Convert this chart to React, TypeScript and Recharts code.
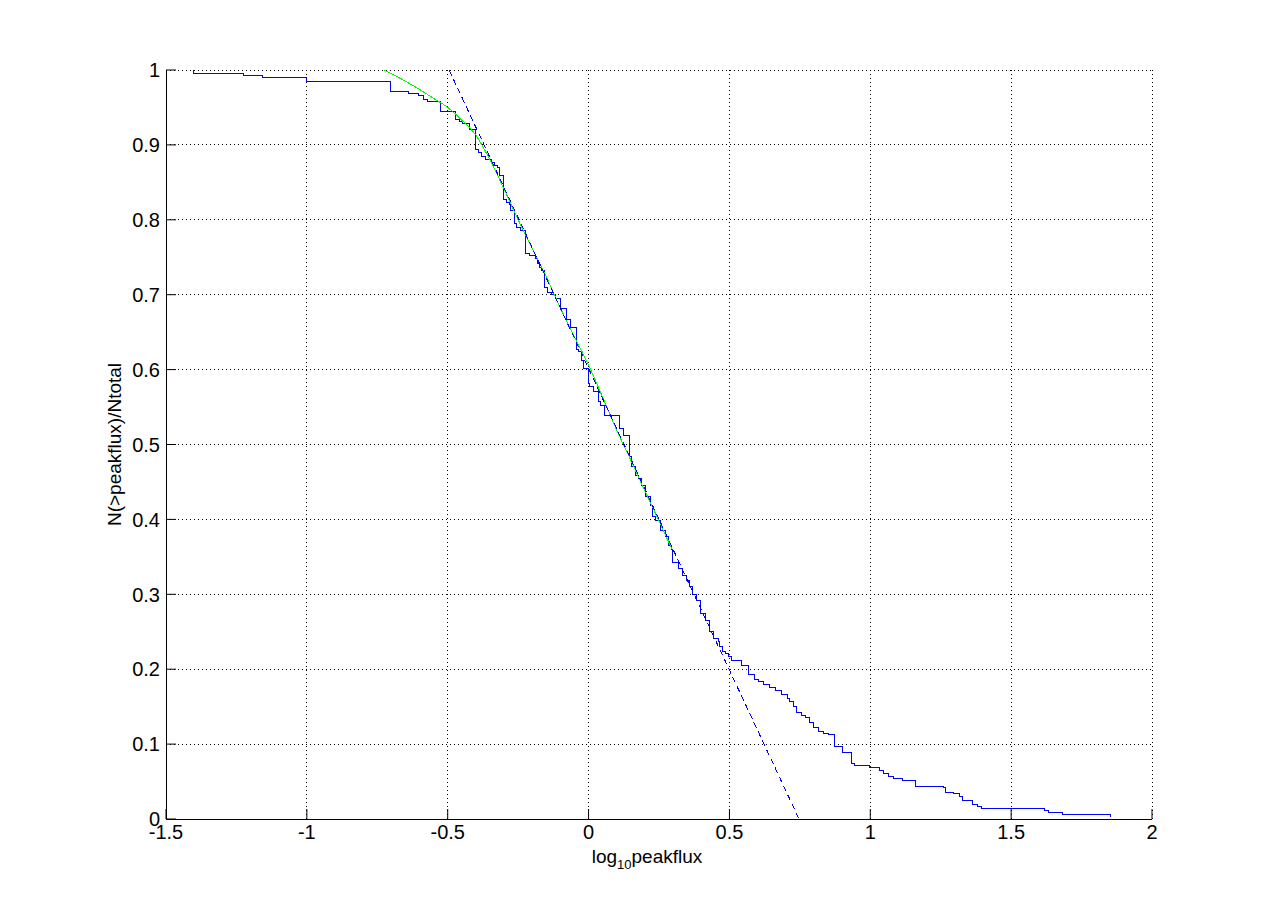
import React from 'react';
import { LineChart, Line, XAxis, YAxis, CartesianGrid } from 'recharts';

const xTicks = [-1.5, -1, -0.5, 0, 0.5, 1, 1.5, 2];
const yTicks = [0, 0.1, 0.2, 0.3, 0.4, 0.5, 0.6, 0.7, 0.8, 0.9, 1];

const stepX = [-1.402, -1.402, -1.2245, -1.157, -1.0, -0.704, -0.639, -0.604, -0.586, -0.572, -0.526, -0.4725, -0.458, -0.446, -0.423, -0.4016, -0.391, -0.379, -0.3647, -0.346, -0.335, -0.3235, -0.3175, -0.302, -0.2927, -0.281, -0.276, -0.263, -0.2547, -0.2405, -0.2253, -0.21, -0.19, -0.1816, -0.1756, -0.166, -0.157, -0.1447, -0.1305, -0.1164, -0.101, -0.0798, -0.063, -0.0443, -0.036, -0.024, -0.0184, 0.0, 0.003, 0.017, 0.0348, 0.0408, 0.056, 0.1093, 0.1234, 0.1437, 0.1532, 0.165, 0.1767, 0.1887, 0.2004, 0.2182, 0.2277, 0.236, 0.2536, 0.2714, 0.282, 0.2951, 0.2987, 0.3186, 0.334, 0.3459, 0.3576, 0.3696, 0.3838, 0.398, 0.4168, 0.4285, 0.4427, 0.4604, 0.464, 0.476, 0.4878, 0.496, 0.508, 0.5435, 0.5669, 0.5906, 0.6023, 0.62, 0.6414, 0.665, 0.6854, 0.7052, 0.7148, 0.729, 0.7386, 0.7563, 0.7716, 0.7857, 0.8, 0.8152, 0.833, 0.8507, 0.8745, 0.9017, 0.9337, 0.9454, 0.9986, 1.034, 1.0483, 1.0635, 1.0837, 1.1146, 1.1618, 1.2586, 1.267, 1.2966, 1.3178, 1.3274, 1.3615, 1.3792, 1.3934, 1.617, 1.6335, 1.6807, 1.8524];
const stepY = [1.0, 0.995, 0.992, 0.9896, 0.9843, 0.9709, 0.9683, 0.9656, 0.9603, 0.9576, 0.9442, 0.9336, 0.9309, 0.9282, 0.9206, 0.8935, 0.8903, 0.885, 0.8806, 0.877, 0.873, 0.8695, 0.859, 0.8268, 0.8236, 0.8205, 0.8125, 0.7948, 0.7903, 0.7859, 0.7556, 0.7525, 0.748, 0.7422, 0.7369, 0.7325, 0.7102, 0.7035, 0.7005, 0.6947, 0.6814, 0.667, 0.6558, 0.6267, 0.6244, 0.6115, 0.6013, 0.5813, 0.5768, 0.5701, 0.5568, 0.5524, 0.539, 0.5213, 0.5123, 0.4834, 0.47, 0.459, 0.4546, 0.4456, 0.43, 0.419, 0.4033, 0.399, 0.3856, 0.3767, 0.3656, 0.3602, 0.342, 0.3345, 0.3255, 0.3189, 0.31, 0.2998, 0.2922, 0.2744, 0.2655, 0.2499, 0.2411, 0.2366, 0.2299, 0.2232, 0.2211, 0.2166, 0.2121, 0.2055, 0.1935, 0.1864, 0.1832, 0.1801, 0.1757, 0.1721, 0.1664, 0.161, 0.1565, 0.1508, 0.1418, 0.1388, 0.1357, 0.1285, 0.1218, 0.1174, 0.1143, 0.1134, 0.0965, 0.0885, 0.0743, 0.0711, 0.0684, 0.0644, 0.061, 0.0574, 0.0543, 0.0516, 0.044, 0.0418, 0.036, 0.0334, 0.0298, 0.0253, 0.02, 0.0173, 0.0143, 0.012, 0.0093, 0.0063, 0.0031];

const fitX = [-0.725, -0.65, -0.6, -0.55, -0.5, -0.45, -0.4, -0.35, -0.3, -0.25, -0.2, -0.15, -0.1, -0.05, 0, 0.05, 0.1, 0.15, 0.2, 0.25, 0.295];
const fitY = [1.0, 0.985, 0.974, 0.962, 0.95, 0.933, 0.913, 0.88, 0.841, 0.8, 0.762, 0.724, 0.682, 0.644, 0.606, 0.563, 0.519, 0.479, 0.438, 0.398, 0.361];

const powerX = [-0.495, 0.747];
const powerY = [1.0, 0.0];

const stepData = stepX.map((x, i) => ({ x, y: stepY[i] }));
const fitData = fitX.map((x, i) => ({ x, y: fitY[i] }));
const powerData = powerX.map((x, i) => ({ x, y: powerY[i] }));

const FONT = '"Liberation Sans", Arial, Helvetica, sans-serif';
const FS = 19;
const TFS = 20;

const BottomTick = (props: any) => {
  const { x, y, payload } = props;
  return (
    <g>
      <line x1={x} y1={y} x2={x} y2={y - 10} stroke="#000" strokeWidth={1} />
      <text x={x} y={y + 20} textAnchor="middle" fontSize={TFS} fontFamily={FONT} fill="#000">
        {String(payload.value)}
      </text>
    </g>
  );
};

const LeftTick = (props: any) => {
  const { x, y, payload } = props;
  return (
    <g>
      <line x1={x} y1={y} x2={x + 10} y2={y} stroke="#000" strokeWidth={1} />
      <text x={x - 6} y={y} dy="0.36em" textAnchor="end" fontSize={TFS} fontFamily={FONT} fill="#000">
        {String(payload.value)}
      </text>
    </g>
  );
};

const XLabel = (props: any) => {
  const vb = props.viewBox || {};
  const cx = vb.x + vb.width / 2 - 12;
  const by = vb.y + 44;
  return (
    <text x={cx} y={by} textAnchor="middle" fontSize={FS} fontFamily={FONT} fill="#000">
      log
      <tspan fontSize={13} dy={6}>10</tspan>
      <tspan dy={-6}>peakflux</tspan>
    </text>
  );
};

const YLabel = (props: any) => {
  const vb = props.viewBox || {};
  const bx = vb.x + 15;
  const cy = vb.y + vb.height / 2;
  return (
    <text
      x={bx}
      y={cy}
      transform={`rotate(-90, ${bx}, ${cy})`}
      textAnchor="middle"
      fontSize={FS}
      fontFamily={FONT}
      fill="#000"
    >
      N(&gt;peakflux)/Ntotal
    </text>
  );
};

export default function App() {
  return (
    <div style={{ width: 1265, height: 912, background: '#fff' }}>
      <style>{'.recharts-line-curve, .recharts-cartesian-grid line, .recharts-cartesian-axis-line, .recharts-cartesian-axis-tick-line { shape-rendering: crispEdges; }'}</style>
      <LineChart width={1265} height={912} margin={{ top: 62, right: 121, bottom: 61, left: 98 }}>
        <CartesianGrid
          stroke="#000"
          strokeDasharray="1 3"
          horizontalValues={yTicks}
          verticalValues={xTicks}
          fill="none"
        />
        <XAxis
          type="number"
          dataKey="x"
          domain={[-1.5, 2]}
          ticks={xTicks}
          interval={0}
          allowDataOverflow
          height={40}
          tickSize={0}
          tickMargin={0}
          tickLine={false}
          axisLine={{ stroke: '#000' }}
          tick={<BottomTick />}
          label={XLabel}
        />
        <XAxis
          xAxisId="top"
          orientation="top"
          type="number"
          dataKey="x"
          domain={[-1.5, 2]}
          ticks={xTicks}
          interval={0}
          allowDataOverflow
          height={0}
          mirror
          tick={false}
          tickSize={10}
          tickLine={{ stroke: '#000' }}
          axisLine={{ stroke: '#000' }}
        />
        <YAxis
          type="number"
          domain={[0, 1]}
          ticks={yTicks}
          interval={0}
          allowDataOverflow
          width={60}
          tickSize={0}
          tickMargin={0}
          tickLine={false}
          axisLine={{ stroke: '#000' }}
          tick={<LeftTick />}
          label={YLabel}
        />
        <YAxis
          yAxisId="right"
          orientation="right"
          type="number"
          domain={[0, 1]}
          ticks={yTicks}
          interval={0}
          allowDataOverflow
          width={0}
          mirror
          tick={false}
          tickSize={10}
          tickLine={{ stroke: '#000' }}
          axisLine={{ stroke: '#000' }}
        />
        <Line
          data={stepData}
          dataKey="y"
          type="stepAfter"
          stroke="#0000ff"
          strokeWidth={1}
          dot={false}
          activeDot={false}
          isAnimationActive={false}
        />
        <Line
          data={fitData}
          dataKey="y"
          type="monotone"
          stroke="#00ff00"
          strokeWidth={1}
          dot={false}
          activeDot={false}
          isAnimationActive={false}
        />
        <Line
          data={powerData}
          dataKey="y"
          type="linear"
          stroke="#0000ff"
          strokeWidth={1}
          strokeDasharray="6 4"
          dot={false}
          activeDot={false}
          isAnimationActive={false}
        />
      </LineChart>
    </div>
  );
}
